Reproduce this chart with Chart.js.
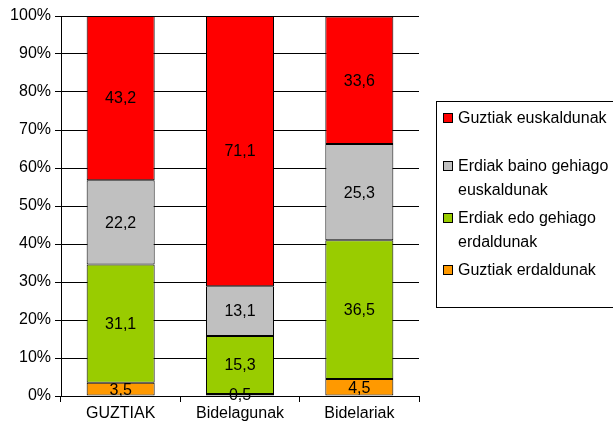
<!DOCTYPE html>
<html><head><meta charset="utf-8">
<script src="https://cdn.jsdelivr.net/npm/chart.js@4"></script>
<style>html,body{margin:0;padding:0;background:#fff}#wrap{width:613px;height:430px}</style>
</head><body><div id="wrap"><canvas id="c" width="613" height="430"></canvas></div>
<script>
const categories = ["GUZTIAK", "Bidelagunak", "Bidelariak"];
const guztiakErdaldunak = [3.5, 0.5, 4.5];
const erdiakEdoGehiagoErdaldunak = [31.1, 15.3, 36.5];
const erdiakBainoGehiagoEuskaldunak = [22.2, 13.1, 25.3];
const guztiakEuskaldunak = [43.2, 71.1, 33.6];
const seriesNames = [
  ["Guztiak erdaldunak"],
  ["Erdiak edo gehiago", "erdaldunak"],
  ["Erdiak baino gehiago", "euskaldunak"],
  ["Guztiak euskaldunak"]
];
const yTicks = [0,10,20,30,40,50,60,70,80,90,100];
const colors = ["#FF9900", "#99CC00", "#C0C0C0", "#FF0000"];
const FONT = "Liberation Sans, Arial, sans-serif";

const fmt = v => v.toFixed(1).replace('.', ',');

const labelsPlugin = {
  id: 'segLabels',
  afterDatasetsDraw(chart) {
    const ctx = chart.ctx;
    ctx.save();
    ctx.font = "16px " + FONT;
    ctx.fillStyle = "#000";
    ctx.textAlign = "center";
    ctx.textBaseline = "middle";
    chart.data.datasets.forEach((ds, i) => {
      chart.getDatasetMeta(i).data.forEach((bar, j) => {
        const yc = (bar.y + bar.base) / 2;
        ctx.fillText(fmt(ds.data[j]), bar.x, yc + 1);
      });
    });
    ctx.restore();
  }
};

const legendPlugin = {
  id: 'boxLegend',
  afterDraw(chart) {
    const ctx = chart.ctx;
    ctx.save();
    ctx.strokeStyle = "#000";
    ctx.lineWidth = 1;
    ctx.strokeRect(436.5, 101.5, 190, 206);
    ctx.font = "16px " + FONT;
    ctx.textBaseline = "middle";
    ctx.textAlign = "left";
    const items = [
      {idx: 3, ys: [118]},
      {idx: 2, ys: [166, 190]},
      {idx: 1, ys: [218, 242]},
      {idx: 0, ys: [270]}
    ];
    items.forEach(it => {
      const y0 = it.ys[0];
      ctx.fillStyle = colors[it.idx];
      ctx.fillRect(443.5, y0 - 4.5, 9, 9);
      ctx.strokeStyle = "#000";
      ctx.strokeRect(443.5, y0 - 4.5, 9, 9);
      ctx.fillStyle = "#000";
      seriesNames[it.idx].forEach((t, k) => ctx.fillText(t, 458, it.ys[k] + 1));
    });
    ctx.restore();
  }
};

new Chart(document.getElementById('c'), {
  type: 'bar',
  data: {
    labels: categories,
    datasets: [guztiakErdaldunak, erdiakEdoGehiagoErdaldunak, erdiakBainoGehiagoEuskaldunak, guztiakEuskaldunak].map((d, i) => ({
      label: seriesNames[i].join(' '),
      data: d,
      backgroundColor: colors[i],
      borderColor: "#000",
      borderWidth: 1,
      borderSkipped: false,
      categoryPercentage: 1,
      barPercentage: 0.57
    }))
  },
  options: {
    responsive: false,
    animation: false,
    devicePixelRatio: 1,
    layout: {padding: {top: 16, right: 194, left: 0, bottom: 0}},
    plugins: {legend: {display: false}, tooltip: {enabled: false}},
    scales: {
      x: {
        stacked: true,
        grid: {display: true, drawOnChartArea: false, drawTicks: true, tickLength: 6, color: "#000", offset: true},
        border: {display: true, color: "#000"},
        ticks: {color: "#000", font: {family: FONT, size: 16}, padding: 2, maxRotation: 0},
        afterFit(s) { s.height = 34; }
      },
      y: {
        stacked: true,
        min: 0, max: 100,
        afterBuildTicks(s) { s.ticks = yTicks.map(v => ({value: v})); },
        grid: {color: "#000", tickLength: 6, drawTicks: true},
        border: {display: true, color: "#000"},
        ticks: {color: "#000", font: {family: FONT, size: 16}, padding: 4, callback: v => v + "%"},
        afterFit(s) { s.width = 61; }
      }
    }
  },
  plugins: [labelsPlugin, legendPlugin]
});
</script>
</body></html>
